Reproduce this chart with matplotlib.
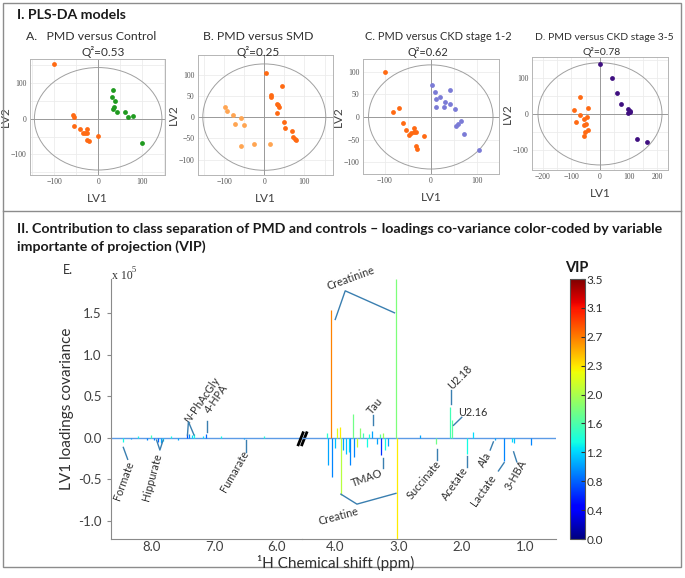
import matplotlib
matplotlib.use("Agg")
import matplotlib.pyplot as plt
import numpy as np
from matplotlib.patches import Ellipse, Rectangle
from matplotlib.lines import Line2D
from matplotlib.ticker import MultipleLocator
from matplotlib.cm import ScalarMappable
from matplotlib.colors import Normalize

plt.rcParams["font.family"] = ["Lato", "DejaVu Sans"]
plt.rcParams["mathtext.fontset"] = "custom"
plt.rcParams["mathtext.it"] = "Lato:italic"
plt.rcParams["mathtext.rm"] = "Lato"

W, H = 685, 578

# ---------------- PLS-DA scores (LV1, LV2) ----------------
a_pmd_lv1 = [-100, -57, -56, -54, -42, -26, -31, -26, -35, -25, -20, 0]
a_pmd_lv2 = [153, 10, 4, -19, -28, -28, -41, -41, -41, -60, -63, -49]
a_ctl_lv1 = [33, 32, 38, 37, 34, 43, 60, 68, 80, 100]
a_ctl_lv2 = [81, 60, 51, 34, 27, 20, 20, 6, 8, -69]

b_pmd_lv1 = [4, 17, 16, 43, 31, 35, 36, 32, 50, 52, 69, 72, 76, 78]
b_pmd_lv2 = [104, 53, 48, 73, 32, 28, 23, 9, -12, -26, -32, -46, -51, -54]
b_smd_lv1 = [-97, -93, -79, -59, -73, -50, -59, -26, 13]
b_smd_lv2 = [24, 14, 6, -2, -17, -19, -69, -64, -62]

c_pmd_lv1 = [-100, -69, -83, -60, -53, -48, -42, -37, -36, -33, -15, -33, -29]
c_pmd_lv2 = [100, 19, 10, -14, -29, -39, -35, -25, -34, -34, -42, -64, -70]
c_ckd_lv1 = [3, 9, 12, 20, 28, 30, 12, 42, 41, 52, 55, 60, 66, 73, 105]
c_ckd_lv2 = [71, 56, 40, 43, 21, 34, 21, 60, 28, 17, -20, -15, -9, -38, -72]

d_pmd_lv1 = [-69, -91, -71, -83, -41, -46, -56, -50, -57, -43, -52, -55]
d_pmd_lv2 = [46, 11, -3, -24, 16, -10, -13, -28, -31, -45, -51, -62]
d_ckd_lv1 = [0, 43, 58, 73, 98, 106, 99, 106, 131, 163]
d_ckd_lv2 = [138, 100, 59, 28, 13, 6, 2, 9, -71, -78]

# ---------------- LV1 loadings (x 10^5) with VIP ----------------
# aromatic region (left of the axis break)
hi_ppm = [8.46, 8.33, 8.22, 8.08, 8.02, 7.96, 7.90, 7.86, 7.83, 7.70, 7.58,
          7.44, 7.41, 7.36, 7.33, 7.18, 7.13, 6.90, 6.52, 6.20]
hi_val = [-0.05, -0.02, 0.02, -0.03, 0.03, -0.03, -0.05, -0.06, -0.04, 0.02, -0.03,
          0.04, 0.05, 0.03, 0.04, 0.02, 0.05, 0.02, -0.01, 0.02]
hi_vip = [1.3, 1.0, 1.3, 0.9, 1.5, 0.9, 0.8, 1.0, 1.2, 1.3, 1.0,
          0.7, 0.9, 1.2, 1.3, 1.2, 0.8, 1.3, 1.0, 1.4]

# aliphatic region (right of the axis break)
lo_ppm = [4.13, 4.12, 4.06, 4.05, 4.00, 3.97, 3.93, 3.91, 3.87, 3.83, 3.79,
          3.76, 3.72, 3.71, 3.66, 3.61, 3.56, 3.50, 3.46, 3.42, 3.34, 3.29,
          3.27, 3.25, 3.22, 3.16, 3.04, 3.03, 2.66, 2.41, 2.18, 2.16, 1.92,
          1.82, 1.48, 1.33, 1.20, 1.17, 0.90]
lo_val = [0.06, -0.33, 1.54, -0.47, -0.12, 0.12, 0.13, -0.69, -0.15, -0.20, -0.17,
          -0.33, 0.29, -0.23, -0.11, 0.12, 0.06, -0.11, 0.05, 0.08, -0.08, 0.05,
          -0.21, 0.06, -0.15, -0.10, 1.91, -1.25, 0.03, -0.08, 0.37, 0.21, -0.20,
          0.07, -0.03, -0.28, -0.05, -0.06, -0.09]
lo_vip = [1.4, 1.0, 2.7, 0.9, 1.1, 2.2, 2.3, 2.0, 1.0, 1.1, 1.2,
          0.9, 1.7, 0.9, 2.1, 1.8, 1.5, 1.3, 1.4, 1.0, 1.0, 1.6,
          0.6, 1.9, 1.3, 1.0, 1.75, 2.3, 1.0, 1.7, 1.5, 1.6, 1.3,
          1.2, 1.0, 0.9, 1.2, 1.1, 0.9]

vip_ticks = ["0.0", "0.4", "0.8", "1.2", "1.6", "2.0", "2.3", "2.7", "3.1", "3.5"]


def rect(x0, y0, x1, y1):
    return [x0 / W, 1 - y1 / H, (x1 - x0) / W, (y1 - y0) / H]


def draw_scores(r, xlim, ylim, radii, groups, xticks, yticks):
    ax = fig.add_axes(r)
    ax.set_xlim(xlim)
    ax.set_ylim(ylim)
    ax.xaxis.set_minor_locator(MultipleLocator(50))
    ax.yaxis.set_minor_locator(MultipleLocator(50))
    ax.grid(which="both", color="#ececec", lw=0.6)
    ax.set_axisbelow(True)
    ax.axhline(0, color="#9a9a9a", lw=0.7)
    ax.axvline(0, color="#9a9a9a", lw=0.7)
    ax.add_patch(Ellipse((0, 0), 2 * radii[0], 2 * radii[1], fill=False,
                         ec="#a0a0a0", lw=0.7))
    for xs, ys, c in groups:
        ax.scatter(xs, ys, s=12, color=c, lw=0, zorder=3)
    ax.set_xticks(xticks)
    ax.set_yticks(yticks)
    ax.tick_params(which="both", length=0, labelsize=5.6, colors="#555555", pad=2.5)
    for lab in ax.get_xticklabels() + ax.get_yticklabels():
        lab.set_family("Liberation Serif")
    for s in ax.spines.values():
        s.set_color("#b5b5b5")
        s.set_linewidth(0.7)
    ax.set_xlabel("LV1", fontsize=8.5, color="#404040", labelpad=5)
    ax.set_ylabel("LV2", fontsize=8.5, color="#404040")
    ax.yaxis.set_label_coords(-0.14, 0.5)
    return ax


fig = plt.figure(figsize=(W / 100, H / 100), dpi=100)

# frames
fig.add_artist(Rectangle((3 / W, 1 - 567 / H), 678 / W, 564 / H, transform=fig.transFigure,
                         fill=False, ec="#8c8c8c", lw=1))
fig.add_artist(Line2D([3 / W, 681 / W], [1 - 211 / H, 1 - 211 / H], transform=fig.transFigure,
                      color="#8c8c8c", lw=1))

fig.text(17 / W, 1 - 15 / H, "I. PLS-DA models", fontsize=10.2, fontweight="bold",
         color="#1a1a1a", va="center")

orange = "#ff6a13"
draw_scores(rect(30, 59, 165, 175), (-155, 152), (-158, 168), (145, 144),
            [(a_pmd_lv1, a_pmd_lv2, orange), (a_ctl_lv1, a_ctl_lv2, "#1f9a1f")],
            [-100, 0, 100], [-100, 0, 100])
draw_scores(rect(198, 55, 333, 175), (-165, 171), (-136, 146), (153, 125),
            [(b_pmd_lv1, b_pmd_lv2, orange), (b_smd_lv1, b_smd_lv2, "#ffa552")],
            [-100, 0, 100], [-100, -50, 0, 50, 100])
draw_scores(rect(363, 59, 499, 174), (-147, 148), (-126, 128), (135, 115),
            [(c_pmd_lv1, c_pmd_lv2, orange), (c_ckd_lv1, c_ckd_lv2, "#7b7bd6")],
            [-100, 0, 100], [-100, -50, 0, 50, 100])
draw_scores(rect(532, 57, 668, 170), (-238, 238), (-156, 158), (217, 142),
            [(d_pmd_lv1, d_pmd_lv2, orange), (d_ckd_lv1, d_ckd_lv2, "#3f0f80")],
            [-200, -100, 0, 100, 200], [-100, 0, 100])

titles = [("A.   PMD versus Control", 91, 36, 8.8, "Q²=0.53", 103),
          ("B. PMD versus SMD", 258, 36, 8.8, "Q²=0.25", 258),
          ("C. PMD versus CKD stage 1-2", 438, 37, 7.9, "Q²=0.62", 428),
          ("D. PMD versus CKD stage 3-5", 604, 37, 7.5, "Q²=0.78", 602)]
for t, x, y, fs, q, qx in titles:
    fig.text(x / W, 1 - y / H, t, fontsize=fs, color="#303030", ha="center", va="center")
    fig.text(qx / W, 1 - 52 / H, q, fontsize=min(fs, 8.5), color="#303030",
             ha="center", va="center")

# ---------------- section II ----------------
fig.text(17 / W, 1 - 229 / H,
         "II. Contribution to class separation of PMD and controls \u2013 loadings co-variance color-coded by variable",
         fontsize=10.2, fontweight="bold", color="#1a1a1a", va="center")
fig.text(17 / W, 1 - 247 / H, "importante of projection (VIP)",
         fontsize=10.2, fontweight="bold", color="#1a1a1a", va="center")
fig.text(63 / W, 1 - 270 / H, "E.", fontsize=9, color="#303030", va="center")

cmap = plt.get_cmap("jet")
norm = Normalize(0, 3.5)
ylim = (-1.224, 1.91)

ax_l = fig.add_axes(rect(110.7, 279.3, 301.7, 539.3))
ax_r = fig.add_axes(rect(301.7, 279.3, 556, 539.3))
ax_l.set_xlim(8.66, 5.6)
ax_r.set_xlim(4.53, 0.51)
for ax, ppm, val, vip in [(ax_l, hi_ppm, hi_val, hi_vip), (ax_r, lo_ppm, lo_val, lo_vip)]:
    ax.set_ylim(ylim)
    ax.axhline(0, color="#5c9be6", lw=1.0, zorder=1)
    ax.vlines(ppm, 0, val, colors=cmap(norm(np.array(vip))), lw=0.9, zorder=2)
    for s in ("top", "right"):
        ax.spines[s].set_visible(False)
    ax.spines["bottom"].set_color("#8a8a8a")
    ax.spines["left"].set_color("#8a8a8a")
    ax.patch.set_visible(False)
    ax.tick_params(labelsize=9.5, colors="#404040", length=3, color="#8a8a8a")
    ax.tick_params(axis="x", length=0, pad=1.5)
ax_l.set_xticks([8.0, 7.0, 6.0], ["8.0", "7.0", "6.0"])
ax_r.set_xticks([4.0, 3.0, 2.0, 1.0], ["4.0", "3.0", "2.0", "1.0"])
ax_l.set_yticks([-1.0, -0.5, 0.0, 0.5, 1.0, 1.5], ["-1.0", "-0.5", "0.0", "0.5", "1.0", "1.5"])
ax_r.spines["left"].set_visible(False)
ax_r.set_yticks([])
ax_l.set_ylabel("LV1 loadings covariance", fontsize=11, color="#303030", labelpad=3)
fig.text(336 / W, 1 - 563 / H, "\u00b9H Chemical shift (ppm)", fontsize=11, color="#303030",
         ha="center", va="center")
fig.text(112 / W, 1 - 276 / H, "x 10", fontsize=8.5, color="#303030", va="center",
         family="Liberation Serif")
fig.text(131.5 / W, 1 - 270 / H, "5", fontsize=6, color="#303030", va="center",
         family="Liberation Serif")

# axis break mark
for x0 in (0.982, 1.001):
    ax_l.plot([x0, x0 + 0.025], [-0.085, 0.06], color="black", lw=2,
              transform=ax_l.get_yaxis_transform(), clip_on=False, zorder=5)

lead = dict(color="#3a7fb0", lw=1.0, clip_on=False, zorder=4)
txt = dict(fontsize=7.8, color="#303030", ha="center", va="center", clip_on=False)

# annotations, left part
ax_l.plot([8.458, 8.388], [-0.116, -0.26], **lead)
ax_l.text(8.447, -0.52, "Formate", rotation=70, **txt)
ax_l.plot([7.925, 7.872, 7.82], [-0.028, -0.148, -0.028], **lead)
ax_l.text(8.005, -0.48, "Hippurate", rotation=75, **txt)
ax_l.plot([7.43, 7.415, 7.325], [0.033, 0.193, 0.033], **lead)
ax_l.text(7.19, 0.45, r"$\mathit{N}$-PhAcGly", rotation=55, **txt)
ax_l.plot([7.118, 7.118], [0.205, 0.072], **lead)
ax_l.text(6.97, 0.47, "4-HPA", rotation=55, **txt)
ax_l.plot([6.5, 6.5], [-0.028, -0.17], **lead)
ax_l.text(6.676, -0.40, "Fumarate", rotation=60, **txt)

# annotations, right part
ax_r.plot([4.0, 3.842, 3.063], [1.426, 1.771, 1.506], **lead)
ax_r.text(3.76, 1.92, "Creatinine", rotation=20, **txt)
ax_r.plot([3.91, 3.657, 3.04], [-0.68, -0.80, -0.67], **lead)
ax_r.text(3.948, -0.943, "Creatine", rotation=15, **txt)
ax_r.plot([3.247, 3.247], [-0.24, -0.36], **lead)
ax_r.text(3.5, -0.49, "TMAO", rotation=20, **txt)
ax_r.plot([3.395, 3.395], [0.27, 0.15], **lead)
ax_r.text(3.38, 0.39, "Tau", rotation=50, **txt)
ax_r.plot([2.172, 2.172], [0.58, 0.41], **lead)
ax_r.text(2.025, 0.73, "U2.18", rotation=45, **txt)
ax_r.plot([2.13, 2.0], [0.15, 0.246], **lead)
ax_r.text(1.83, 0.30, "U2.16", rotation=0, **txt)
ax_r.plot([2.393, 2.393], [-0.136, -0.27], **lead)
ax_r.text(2.605, -0.51, "Succinate", rotation=50, **txt)
ax_r.plot([1.92, 1.92], [-0.22, -0.35], **lead)
ax_r.text(2.115, -0.55, "Acetate", rotation=55, **txt)
ax_r.plot([1.50, 1.55], [-0.05, -0.148], **lead)
ax_r.text(1.63, -0.26, "Ala", rotation=60, **txt)
ax_r.plot([1.33, 1.42], [-0.30, -0.40], **lead)
ax_r.text(1.66, -0.63, "Lactate", rotation=55, **txt)
ax_r.plot([1.18, 1.13], [-0.17, -0.29], **lead)
ax_r.text(1.14, -0.45, "3-HBA", rotation=60, **txt)

# colour bar
cax = fig.add_axes(rect(570, 279, 585, 539))
cb = fig.colorbar(ScalarMappable(norm=norm, cmap=cmap), cax=cax)
cb.set_ticks(np.linspace(0, 3.5, 10), labels=vip_ticks)
cb.ax.tick_params(labelsize=8.5, colors="#303030", direction="in", length=3, pad=1)
cb.outline.set_edgecolor("#555555")
fig.text(577 / W, 1 - 268 / H, "VIP", fontsize=10.5, fontweight="bold", color="#1a1a1a",
         ha="center", va="center")

fig.savefig("out.png", dpi=100)
